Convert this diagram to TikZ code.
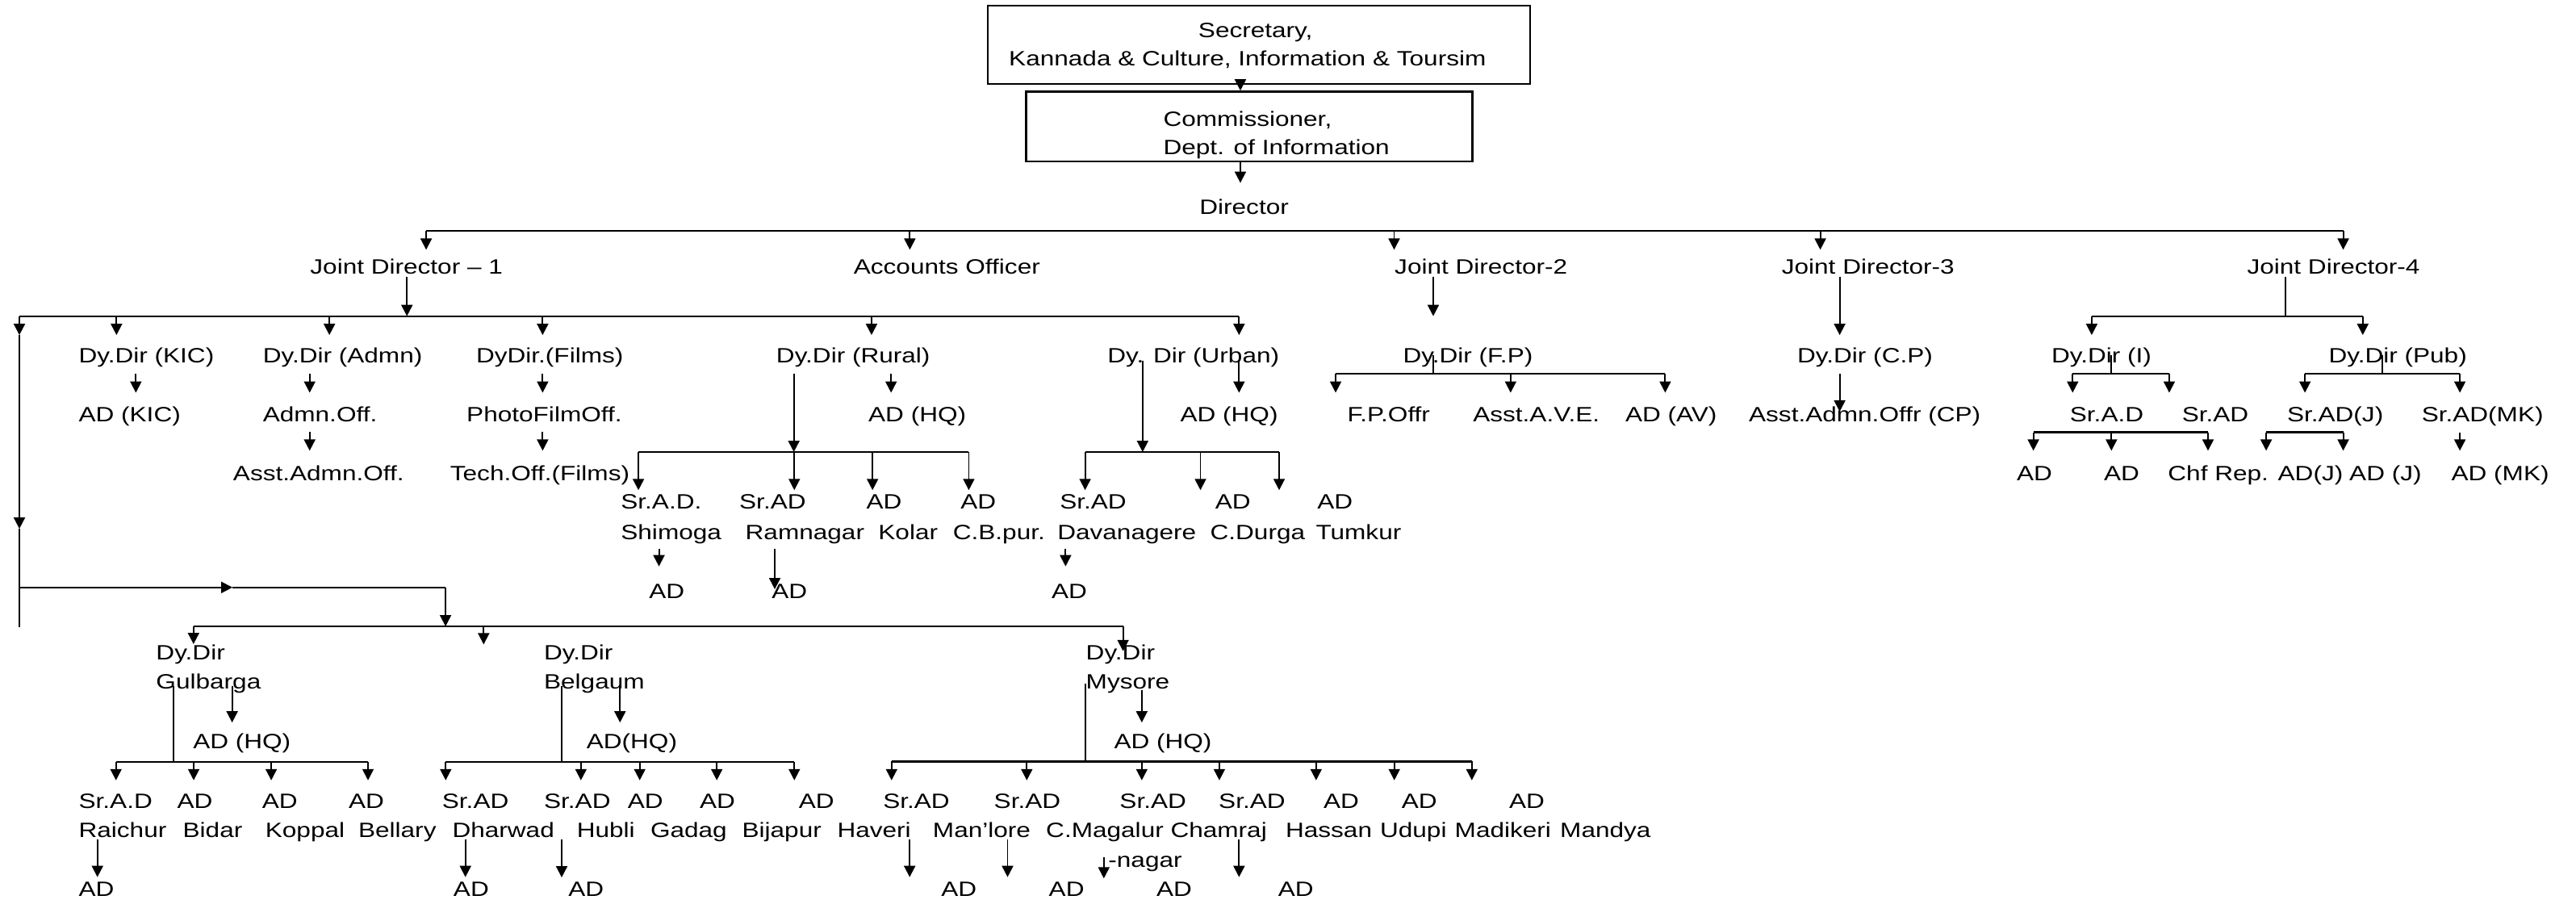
\documentclass[tikz,border=0pt]{standalone}
\usepackage{fontspec}
\setmainfont{Liberation Sans}[FakeStretch=1.23]
\usepackage{tikz}
\usetikzlibrary{arrows.meta}
\definecolor{orgline}{HTML}{000000}

\begin{document}
\begin{tikzpicture}[x=0.020357cm,y=-0.020357cm,
  lbl/.style={anchor=base west,inner sep=0pt,font=\fontsize{7.3pt}{8.8pt}\selectfont},
  box/.style={draw=orgline,line width=0.65pt,inner sep=0pt},
  conn/.style={orgline,line width=0.55pt},
  arr/.style={conn,-{Triangle[length=1.4mm,width=1.4mm]}},
  bus/.style={orgline,line width=0.65pt}]
  \useasboundingbox (0,0) rectangle (1568,550);

  % secretary, commissioner, director
  \node[box,minimum width=6.72cm,minimum height=0.967cm] (sec) at (766.3,27.35) {};
  \node[lbl] (secA) at (729.1,22.6) {Secretary,};
  \node[lbl] (secB) at (613.8,40.1) {Kannada \& Culture, Information \& Toursim};
  \node[box,minimum width=5.53cm,minimum height=0.865cm] (com) at (760.45,76.95) {};
  \node[lbl] (comA) at (707.8,77) {Commissioner,};
  \node[lbl] (comB) at (707.8,94.2) {Dept. of Information};
  \node[lbl] (dir) at (729.8,130.2) {Director};
  \coordinate (dirin) at (755,111.3);
  \draw[arr] (sec.south -| dirin) -- (com.north -| dirin);
  \draw[arr] (com.south -| dirin) -- (dirin);

  % text rows
  \foreach \n/\x/\y/\txt in {
    jdA/188.5/167/Joint Director – 1, ao/519.3/167/Accounts Officer,
    jdB/848.6/167/Joint Director-2, jdC/1084.2/167/Joint Director-3,
    jdD/1367.5/167/Joint Director-4,
    kic/47.6/220.6/Dy.Dir (KIC), admn/159.7/220.6/Dy.Dir (Admn),
    films/289.5/220.6/DyDir.(Films), rural/472.2/220.6/Dy.Dir (Rural),
    urban/673.8/220.6/Dy. Dir (Urban), fp/853.7/220.6/Dy.Dir (F.P),
    cp/1093.7/220.6/Dy.Dir (C.P), dyi/1248.4/220.6/Dy.Dir (I),
    pub/1417.1/220.6/Dy.Dir (Pub),
    adkic/47.6/256.6/AD (KIC), admnoff/159.7/256.6/Admn.Off.,
    photo/283.7/256.6/PhotoFilmOff., adhqr/528.3/256.6/AD (HQ),
    adhqu/718.1/256.6/AD (HQ), fpoffr/819.8/256.6/F.P.Offr,
    ave/896.3/256.6/Asst.A.V.E., adav/989/256.6/AD (AV),
    cpoffr/1064.2/256.6/Asst.Admn.Offr (CP), sraI/1259.6/256.6/Sr.A.D,
    sradI/1327.8/256.6/Sr.AD, sradJ/1391.8/256.6/Sr.AD(J),
    sradMK/1473.7/256.6/Sr.AD(MK),
    asstadmn/141.6/292.3/Asst.Admn.Off., techoff/273.7/292.3/Tech.Off.(Films),
    adIa/1227.3/292.3/AD, adIb/1280.3/292.3/AD, chfrep/1319.3/292.3/Chf Rep. AD(J),
    adJ/1429.7/292.3/AD (J), adMK/1491.8/292.3/AD (MK),
    srshim/377.6/309.5/Sr.A.D., srram/449.7/309.5/Sr.AD, adkol/527/309.5/AD,
    adcbp/584.4/309.5/AD, srdav/644.8/309.5/Sr.AD, adcdg/739.4/309.5/AD,
    adtum/801.5/309.5/AD,
    shim/377.6/328.3/Shimoga, ram/453.4/328.3/Ramnagar, kol/534.3/328.3/Kolar,
    cbp/579.7/328.3/C.B.pur., dav/643.3/328.3/Davanagere,
    cdg/736.3/328.3/C.Durga, tum/800.6/328.3/Tumkur,
    adshim/394.8/364.3/AD, adram/469.4/364.3/AD, addav/639.8/364.3/AD,
    gulA/94.7/401.5/Dy.Dir, belA/330.8/401.5/Dy.Dir, mysA/660.7/401.5/Dy.Dir,
    gul/94.7/419.5/Gulbarga, bel/330.8/419.5/Belgaum, mys/660.7/419.5/Mysore,
    gulhq/117.2/455.4/AD (HQ), belhq/356.7/455.4/AD(HQ), myshq/677.8/455.4/AD (HQ),
    srrai/47.6/491.8/Sr.A.D, adbid/107.5/491.8/AD, adkop/159.2/491.8/AD,
    adbel/211.9/491.8/AD, srdha/268.8/491.8/Sr.AD, srhub/330.8/491.8/Sr.AD,
    adgad/381.8/491.8/AD, adbij/425.6/491.8/AD, adhav/485.9/491.8/AD,
    srhav/537.2/491.8/Sr.AD, srman/604.7/491.8/Sr.AD, srcma/681.2/491.8/Sr.AD,
    srcha/741.5/491.8/Sr.AD, adhas/805.3/491.8/AD, adudu/852.8/491.8/AD,
    admad/918.3/491.8/AD,
    rai/47.6/509.8/Raichur, bid/111/509.8/Bidar, kop/161.2/509.8/Koppal,
    bly/217.8/509.8/Bellary, dha/275/509.8/Dharwad, hub/350.8/509.8/Hubli,
    gad/395.6/509.8/Gadag, bij/451.4/509.8/Bijapur, hav/509.3/509.8/Haveri,
    man/567.5/509.8/Man’lore, cma/636.4/509.8/C.Magalur, cha/712.2/509.8/Chamraj,
    has/782.2/509.8/Hassan, udu/839.7/509.8/Udupi, mad/885.2/509.8/Madikeri,
    mnd/949.3/509.8/Mandya, nagar/674.3/528/-nagar,
    adrai/47.6/545.3/AD, addha/275.7/545.3/AD, adhub/345.6/545.3/AD,
    adhavB/572.6/545.3/AD, adman/638.1/545.3/AD, adcma/703.6/545.3/AD,
    adcha/777.7/545.3/AD}
    \node[lbl] (\n) at (\x,\y) {\txt};

  % buses with their drop arrows
  \foreach \bn/\y/\xl/\xr/\ty/\tips in {
    top/140.5/259.4/1426.3/152/{259.4,553.8,848.6,1108,1426.3},
    jdA/192.4/11.8/754.2/203.9/{70.9,200.5,330.3,530.5,754.2},
    jdD/192.4/1273.2/1438.2/203.9/{1273.2,1438.2},
    fp/227.6/813/1013.6/239/{813,919.5,1013.6},
    dyi/227.6/1261.6/1320.4/239/{1261.6,1320.4},
    pub/227.6/1403/1497.3/239/{1403,1497.3},
    sra/263.1/1237.7/1344/274.3/{1237.7,1285.2,1344},
    srj/263.1/1379.4/1426.3/274.3/{1379.4,1426.3},
    rural/275.1/388.6/589.7/298.3/{388.6,483.5,531.1,589.7},
    urban/275.1/660.5/778.6/298.3/{660.5,730.7,778.6},
    gul/463.7/70.6/224/474.9/{70.6,117.9,165.1,224},
    bel/463.7/271.3/483.5/474.9/{271.3,353.6,389.4,436.3,483.5},
    mys/463.4/542.7/895.9/474.9/{542.7,625,695,742.2,801.1,848.7,895.9}}
  {
    \coordinate (\bn L) at (\xl,\y);
    \coordinate (\bn R) at (\xr,\y);
    \draw[bus] (\bn L) -- (\bn R);
    \foreach \x [count=\idx] in \tips {
      \coordinate (\bn T\idx) at (\x,\ty);
      \draw[arr] (\bn T\idx |- \bn L) -- (\bn T\idx);
    }
  }

  % regional bus
  \coordinate (regL) at (117.8,381.2);
  \coordinate (regR) at (683.6,381.2);
  \draw[bus] (regL) -- (regR);
  \foreach \n/\x/\ty in {gulin/117.8/392, belin/294.4/392.2, mysin/683.6/396.3} {
    \coordinate (\n) at (\x,\ty);
    \draw[arr] (\n |- regL) -- (\n);
  }

  % single arrows
  \foreach \n/\x/\ya/\yb in {
    jdAdn/247.7/168.6/192.4, ruraldn/483.2/227.6/275.1, urbandn/695.5/219.4/275.1,
    kicdn/82.7/227.6/239, admndn/188.5/227.6/239, filmsdn/330.3/227.6/239,
    ruralhq/542.4/227.6/239, urbanhq/754.2/219.4/239,
    admnoffdn/188.5/262.8/274.3, photodn/330.3/262.8/274.3,
    jdBdn/872.4/168.6/192.4, jdCdn/1119.8/168.6/203.9, cpdn/1119.8/227.6/250.5,
    mkdn/1497.3/263.1/274.3,
    shimdn/401.1/334/344.7, ramdn/471.6/334/358.6, davdn/648.6/334/344.7,
    gulhqdn/141.3/417.5/439.7, belhqdn/377.4/417.5/439.7, myshqdn/695/420/439.7,
    raidn/59.3/511/533.8, dhadn/283.3/511/533.8, hubdn/341.9/511/534,
    havdn/553.7/510.9/533.8, mandn/613.3/510.9/533.8,
    cmadn/671.9/521.5/534.6, chadn/754.2/510.9/533.8} {
    \coordinate (\n A) at (\x,\ya);
    \coordinate (\n B) at (\x,\yb);
    \draw[arr] (\n A) -- (\n B);
  }

  % plain stems
  \foreach \n/\x/\ya/\yb in {
    jdDst/1391.1/168.6/192.4, fpst/872.4/216.1/227.6, dyist/1285.2/216.1/227.6,
    pubst/1449.9/216.1/227.6, gulst/105.8/417.5/463.7, belst/341.9/417.5/463.7,
    mysst/660.5/416.2/463.4} {
    \coordinate (\n A) at (\x,\ya);
    \coordinate (\n B) at (\x,\yb);
    \draw[conn] (\n A) -- (\n B);
  }

  % feed line from Joint Director - 1 to the regions
  \coordinate (feedA) at (11.8,203.9);
  \coordinate (feedB) at (11.8,321.8);
  \coordinate (feedC) at (11.8,381.5);
  \coordinate (feedD) at (11.8,357.5);
  \coordinate (feedE) at (141.5,357.5);
  \coordinate (feedF) at (271.2,357.5);
  \draw[arr] (jdAL) -- (feedA);
  \draw[arr] (feedA) -- (feedB);
  \draw[conn] (feedB) -- (feedC);
  \draw[arr] (feedD) -- (feedE);
  \draw[conn] (feedE) -- (feedF);
  \draw[arr] (feedF) -- (feedF |- regL);
\end{tikzpicture}
\end{document}
